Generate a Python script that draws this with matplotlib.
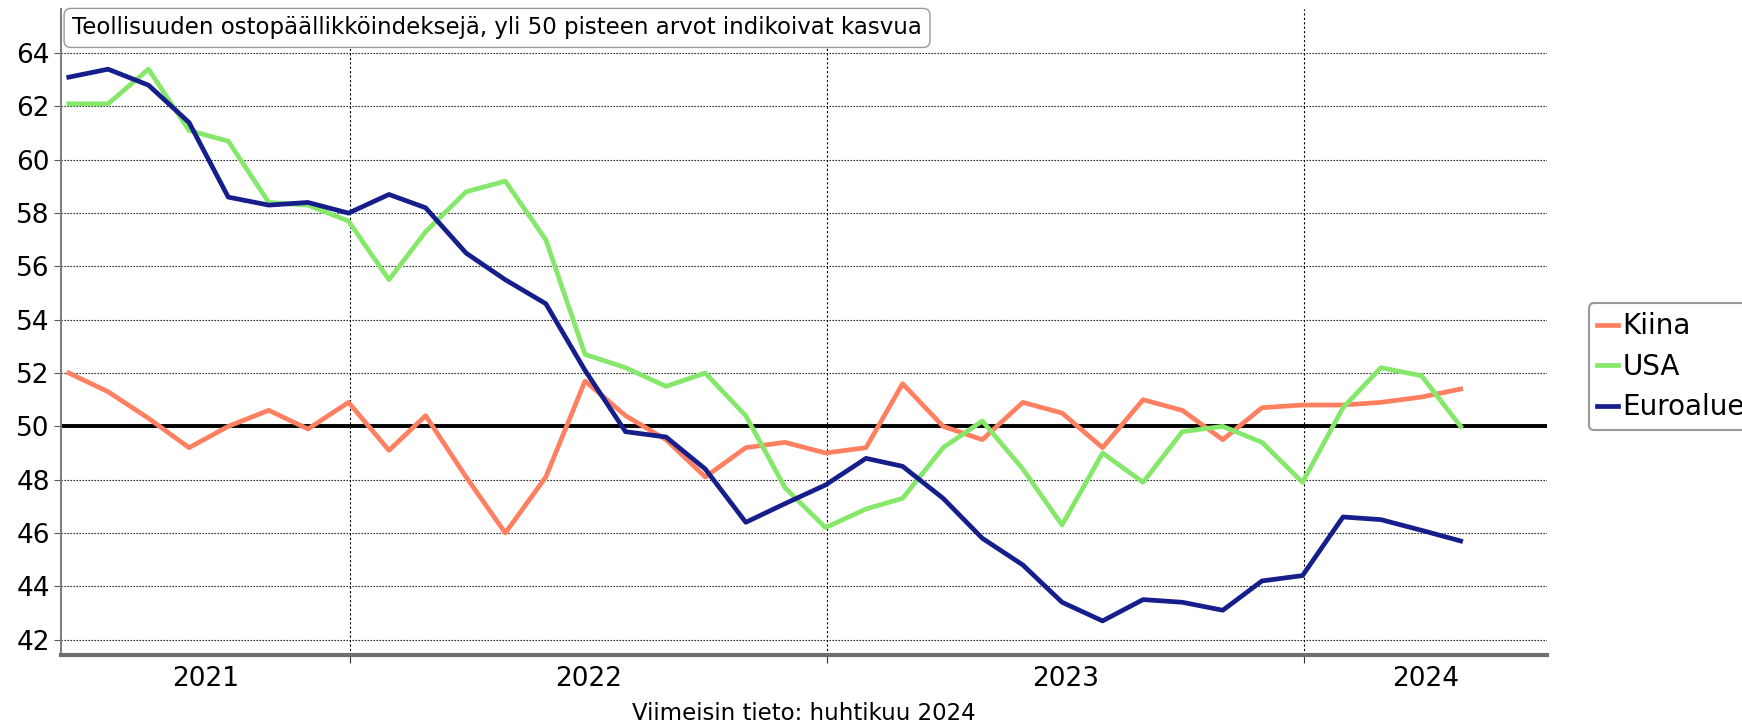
import numpy as np
import pandas as pd
import matplotlib.pyplot as plt

# kuukausittaiset PMI-luvut, touko 2021 - huhti 2024
dates = pd.date_range("2021-05-31", periods=36, freq="ME")

kiina = [52.0, 51.3, 50.3, 49.2, 50.0, 50.6, 49.9, 50.9,
         49.1, 50.4, 48.1, 46.0, 48.1, 51.7, 50.4, 49.5, 48.1, 49.2, 49.4, 49.0,
         49.2, 51.6, 50.0, 49.5, 50.9, 50.5, 49.2, 51.0, 50.6, 49.5, 50.7, 50.8,
         50.8, 50.9, 51.1, 51.4]
usa = [62.1, 62.1, 63.4, 61.1, 60.7, 58.4, 58.3, 57.7,
       55.5, 57.3, 58.8, 59.2, 57.0, 52.7, 52.2, 51.5, 52.0, 50.4, 47.7, 46.2,
       46.9, 47.3, 49.2, 50.2, 48.4, 46.3, 49.0, 47.9, 49.8, 50.0, 49.4, 47.9,
       50.7, 52.2, 51.9, 50.0]
euroalue = [63.1, 63.4, 62.8, 61.4, 58.6, 58.3, 58.4, 58.0,
            58.7, 58.2, 56.5, 55.5, 54.6, 52.1, 49.8, 49.6, 48.4, 46.4, 47.1, 47.8,
            48.8, 48.5, 47.3, 45.8, 44.8, 43.4, 42.7, 43.5, 43.4, 43.1, 44.2, 44.4,
            46.6, 46.5, 46.1, 45.7]

years = ["2021", "2022", "2023", "2024"]

fig = plt.figure(figsize=(17.42, 7.23), dpi=100)
ax = fig.add_axes([0.035, 0.094, 0.853, 0.894])

ax.plot(dates, kiina, color="#FF8060", lw=3.4, label="Kiina")
ax.plot(dates, usa, color="#85E86A", lw=3.4, label="USA")
ax.plot(dates, euroalue, color="#161E8C", lw=3.4, label="Euroalue")
ax.axhline(50, color="black", lw=2.8, zorder=1.5)

x0 = pd.Timestamp("2021-05-25")
x1 = pd.Timestamp("2024-07-05")
ax.set_xlim(x0, x1)
ax.set_ylim(41.42, 65.67)

# vuosirajat ja vuosien nimet keskelle
bounds = [pd.Timestamp(f"{y}-01-01") for y in ["2022", "2023", "2024"]]
edges = [x0] + bounds + [x1]
mids = [edges[i] + (edges[i + 1] - edges[i]) / 2 for i in range(len(years))]
ax.set_xticks(bounds)
ax.set_xticklabels([])
ax.set_xticks(mids, minor=True)
ax.set_xticklabels(years, minor=True, fontsize=19)
ax.tick_params(axis="x", which="major", length=6, color="#333333", direction="out")
ax.tick_params(axis="x", which="minor", length=0, pad=8)

ax.set_yticks(np.arange(42, 65, 2))
ax.tick_params(axis="y", labelsize=19, length=5, color="#555555", pad=3)

ax.grid(axis="y", which="major", linestyle=(0, (1.2, 1.5)), color="black", lw=0.8)
ax.grid(axis="x", which="major", linestyle=(0, (2, 2)), color="black", lw=0.8)

for s in ["top", "right"]:
    ax.spines[s].set_visible(False)
ax.spines["left"].set_color("#808080")
ax.spines["left"].set_linewidth(1.5)
ax.spines["bottom"].set_color("#6e6e6e")
ax.spines["bottom"].set_linewidth(3)

ax.text(0.0075, 0.988, "Teollisuuden ostopäällikköindeksejä, yli 50 pisteen arvot indikoivat kasvua",
        transform=ax.transAxes, ha="left", va="top", fontsize=16.5,
        bbox=dict(boxstyle="round,pad=0.35,rounding_size=0.3", fc="white", ec="#999999", lw=1))

ax.set_xlabel("Viimeisin tieto: huhtikuu 2024", fontsize=16.5, labelpad=7)

leg = ax.legend(loc="center left", bbox_to_anchor=(1.028, 0.446), fontsize=20,
                handlelength=0.75, handletextpad=0.15, borderpad=0.32, labelspacing=0.45,
                borderaxespad=0, fancybox=True, edgecolor="#999999", framealpha=1)
leg.get_frame().set_linewidth(1.5)

plt.savefig("out.png")
